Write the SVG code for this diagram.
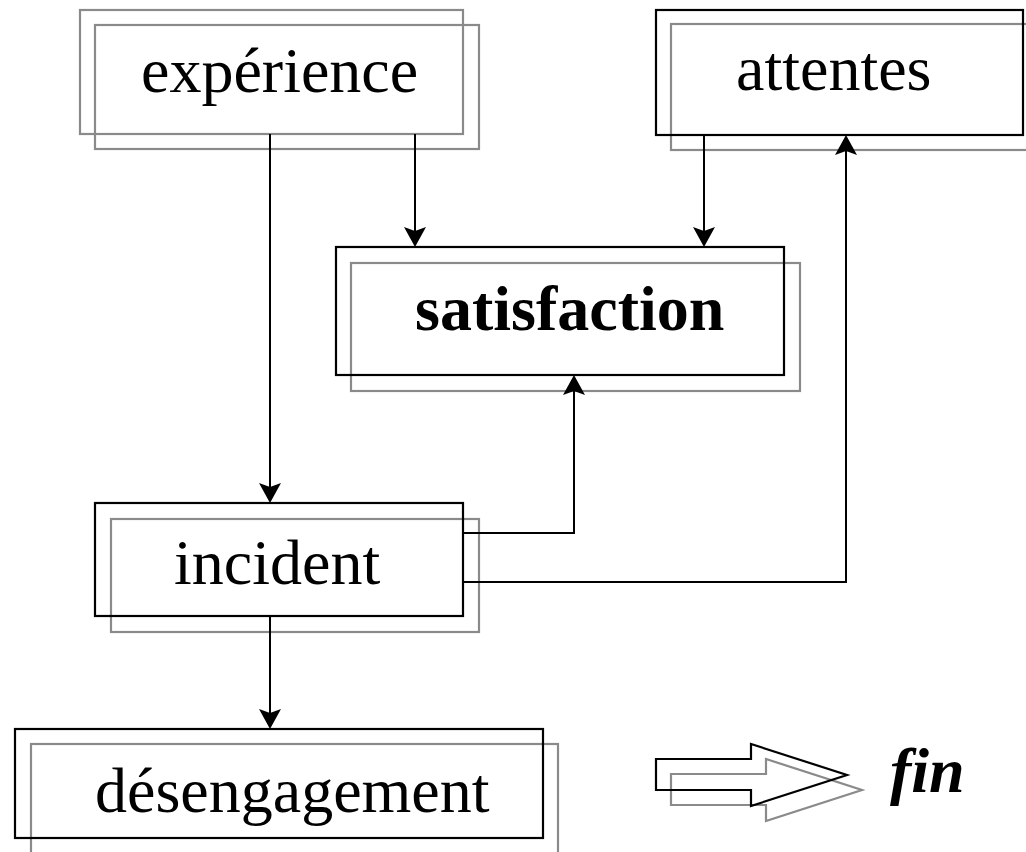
<svg xmlns="http://www.w3.org/2000/svg" width="1026" height="852" viewBox="0 0 1026 852">
  <style>
    .dark { fill: none; stroke: #000; stroke-width: 2.2; }
    .soft { fill: none; stroke: #8a8a8a; stroke-width: 2.2; }
    .label { font-family: "Liberation Serif", "Times New Roman", serif; font-size: 64px; fill: #000; }
    .bold { font-weight: bold; }
    .bolditalic { font-weight: bold; font-style: italic; }
    .wire { fill: none; stroke: #000; stroke-width: 2; marker-end: url(#head); }
  </style>
  <defs>
    <marker id="head" viewBox="-21 -12 22 24" refX="-8" refY="0" markerWidth="22" markerHeight="24" orient="auto" markerUnits="userSpaceOnUse">
      <path d="M0,0 L-20,-11 L-16,0 L-20,11 Z" fill="#000"/>
    </marker>
  </defs>
  <rect width="1026" height="852" fill="#fff"/>

  <!-- experience: two offset grey frames -->
  <g id="experience">
    <rect class="soft" x="80" y="10" width="383" height="124"/>
    <rect class="soft" x="95" y="25" width="384" height="124"/>
    <text class="label" x="141" y="92">expérience</text>
  </g>

  <!-- attentes -->
  <g id="attentes">
    <rect class="soft" x="671" y="24" width="367" height="126"/>
    <rect class="dark" x="656" y="10" width="367" height="125"/>
    <text class="label" x="736" y="90">attentes</text>
  </g>

  <!-- satisfaction -->
  <g id="satisfaction">
    <rect class="soft" x="351" y="263" width="449" height="128"/>
    <rect class="dark" x="336" y="247" width="448" height="128"/>
    <text class="label bold" x="415" y="330">satisfaction</text>
  </g>

  <!-- incident -->
  <g id="incident">
    <rect class="soft" x="111" y="519" width="368" height="113"/>
    <rect class="dark" x="95" y="503" width="368" height="113"/>
    <text class="label" x="174" y="584">incident</text>
  </g>

  <!-- desengagement -->
  <g id="desengagement">
    <rect class="soft" x="31" y="744" width="527" height="120"/>
    <rect class="dark" x="15" y="729" width="528" height="109"/>
    <text class="label" x="95" y="812">désengagement</text>
  </g>

  <!-- fin: hollow block arrow with grey echo -->
  <g id="fin">
    <polygon class="soft" points="671,774 766,774 766,759 862,790 766,821 766,805 671,805"/>
    <polygon class="dark" points="656,759 751,759 751,744 847,775 751,806 751,790 656,790"/>
    <text class="label bolditalic" x="890" y="792">fin</text>
  </g>

  <!-- connectors -->
  <g id="connectors">
    <path class="wire" d="M270,134 V495"/>
    <path class="wire" d="M415,134 V239"/>
    <path class="wire" d="M704,135 V239"/>
    <path class="wire" d="M463,533 H574 V383"/>
    <path class="wire" d="M463,582 H846 V143"/>
    <path class="wire" d="M270,616 V721"/>
  </g>
</svg>
